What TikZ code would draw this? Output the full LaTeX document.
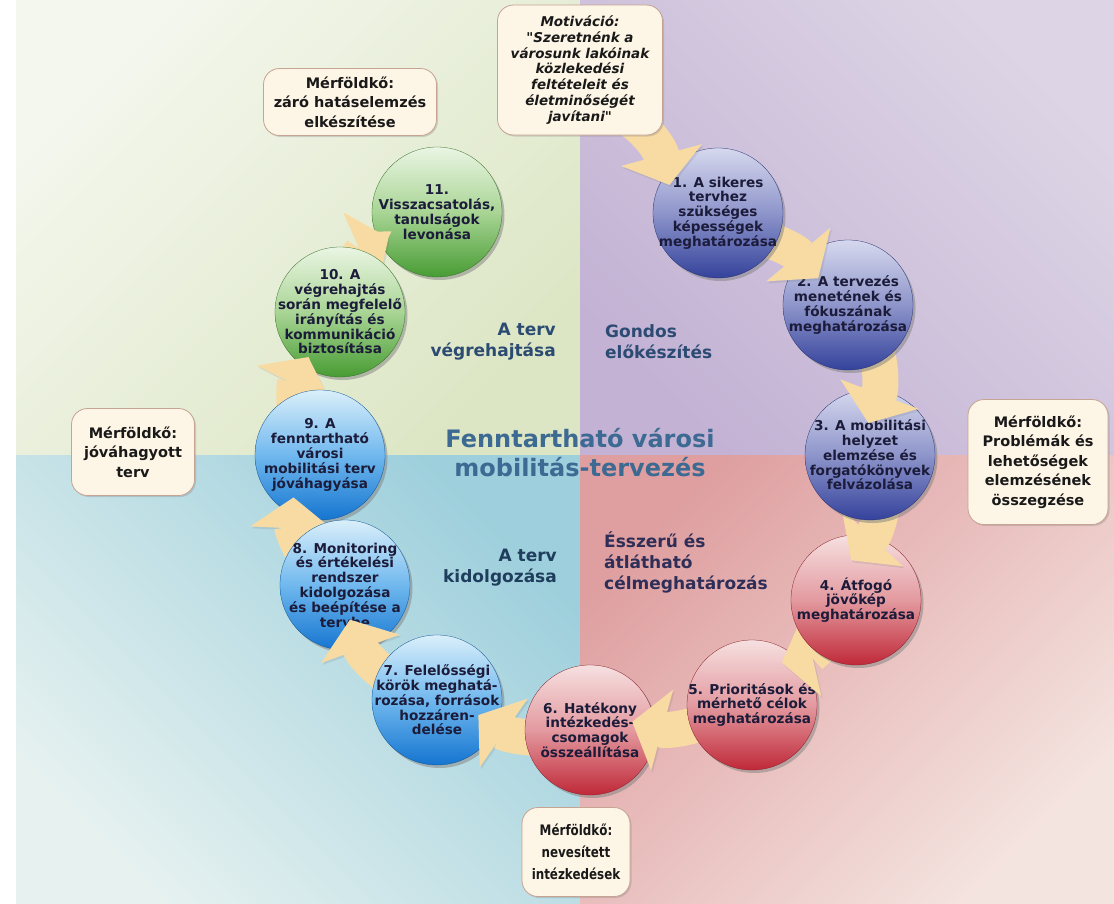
\documentclass[tikz,border=0pt]{standalone}
\usepackage{fontspec}
\setmainfont{DejaVu Sans}
\newfontfamily\condfont[FakeStretch=0.82]{DejaVu Sans}
\newfontfamily\motfont{DejaVu Sans}
\usetikzlibrary{arrows.meta,shadows,calc}
\definecolor{tlL}{HTML}{F4F7EE}\definecolor{tlD}{HTML}{DCE6C4}
\definecolor{trL}{HTML}{DDD5E5}\definecolor{trD}{HTML}{C3B2D4}
\definecolor{blL}{HTML}{E6F1F0}\definecolor{blD}{HTML}{9DCFDC}
\definecolor{brL}{HTML}{F4E4E0}\definecolor{brD}{HTML}{DF9FA0}
\definecolor{puL}{HTML}{D6D8EE}\definecolor{puM}{HTML}{8E95CA}\definecolor{puD}{HTML}{34429C}
\definecolor{reL}{HTML}{F6E0E0}\definecolor{reM}{HTML}{E39AA0}\definecolor{reD}{HTML}{C02838}
\definecolor{blcL}{HTML}{DAEFFA}\definecolor{blcM}{HTML}{70B8EE}\definecolor{blcD}{HTML}{1575D0}
\definecolor{grL}{HTML}{EAF5E3}\definecolor{grM}{HTML}{A9D595}\definecolor{grD}{HTML}{489C34}
\definecolor{ink}{HTML}{1C1C3A}
\definecolor{ttl}{HTML}{3D6A93}
\definecolor{qblue}{HTML}{2C4B73}
\definecolor{qdark}{HTML}{1F3D5C}
\definecolor{qpurp}{HTML}{2E2E58}
\definecolor{arrowc}{HTML}{F8DBA2}
\definecolor{mileF}{HTML}{FDF5E6}
\definecolor{mileD}{HTML}{C6A392}
\begin{document}
\begin{tikzpicture}[x=1pt,y=-1pt,
  ball/.style={circle, minimum size=130pt, inner sep=0pt, draw=#1D!70!black, line width=0.3pt,
    top color=#1L, bottom color=#1D, middle color=#1M,
    drop shadow={shadow xshift=2.5pt, shadow yshift=-3pt, opacity=0.5}},
  ctext/.style={align=center, inner sep=0pt, text=ink, font=\fontsize{13.6}{14.8}\selectfont\bfseries},
  flow/.style={draw=arrowc, line width=36pt, -{Triangle[width=82pt,length=31pt]},
    preaction={draw=black!60, opacity=0.15, transform canvas={shift={(1.5pt,-2pt)}}}},
  mile/.style={draw=mileD, fill=mileF, line width=0.8pt, rounded corners=16pt, align=center,
    inner sep=2pt, font=\fontsize{14.5}{19.5}\selectfont\bfseries, text=black!90,
    drop shadow={shadow xshift=1.5pt, shadow yshift=-1.5pt, opacity=0.3}},
  qlabel/.style={font=\fontsize{17}{21}\selectfont\bfseries, inner sep=0pt},
  ttlstyle/.style={font=\fontsize{24}{29}\selectfont\bfseries, text=ttl, align=center, inner sep=0pt}
]
\useasboundingbox (0,0) rectangle (1114,903);
\fill[white] (0,0) rectangle (1114,903);
% quadrants
\shade[top color=tlL, bottom color=tlD, shading angle=45] (16,0) rectangle (580,455);
\shade[top color=trL, bottom color=trD, shading angle=-45] (580,0) rectangle (1114,455);
\shade[top color=blL, bottom color=blD, shading angle=135] (16,455) rectangle (580,903);
\shade[top color=brL, bottom color=brD, shading angle=-135] (580,455) rectangle (1114,903);
% titles
\node[ttlstyle] (title) at (580,453) {Fenntartható városi\\mobilitás-tervezés};
\node[qlabel, text=qblue, align=right, anchor=east] (qtl) at (556,342) {A terv\\végrehajtása};
\node[qlabel, text=qblue, align=left, anchor=west] (qtr) at (605,342) {Gondos\\előkészítés};
\node[qlabel, text=qdark, align=right, anchor=east] (qbl) at (557,568) {A terv\\kidolgozása};
\node[qlabel, text=qpurp, align=left, anchor=west] (qbr) at (604,562) {Ésszerű és\\átlátható\\célmeghatározás};
% milestones
\node[mile, minimum width=173pt, minimum height=67pt] (mz) at (350,102) {Mérföldkő:\\záró hatáselemzés\\elkészítése};
\node[mile, minimum width=140pt, minimum height=125pt] (mp) at (1038,462) {Mérföldkő:\\Problémák és\\lehetőségek\\elemzésének\\összegzése};
\node[mile, minimum width=123pt, minimum height=87pt] (mj) at (133,452) {Mérföldkő:\\jóváhagyott\\terv};
\node[mile, minimum width=108pt, minimum height=89pt, font=\condfont\bfseries\fontsize{14.5}{22}\selectfont] (mn) at (576,852) {Mérföldkő:\\nevesített\\intézkedések};
% centres
\coordinate (p1) at (718,213);
\coordinate (p2) at (848,305);
\coordinate (p3) at (870,455);
\coordinate (p4) at (856,600);
\coordinate (p5) at (752,705);
\coordinate (p6) at (590,730);
\coordinate (p7) at (437,700);
\coordinate (p8) at (345,585);
\coordinate (p9) at (320,455);
\coordinate (p10) at (340,312);
\coordinate (p11) at (437,212);
\coordinate (ms) at (598,100);
% circles and arrows (drawn in reverse order)
\node[ball=gr] (c11) at (p11) {};
\node[ctext] (t11) at (p11) {11.\\Visszacsatolás,\\tanulságok\\levonása};
\draw[flow] ($(p10)+(85:30pt)$) to[bend left=20] ($(c11)+(-152:55pt)$);
\node[ball=gr] (c10) at (p10) {};
\node[ctext] (t10) at (p10) {10. A\\végrehajtás\\során megfelelő\\irányítás és\\kommunikáció\\biztosítása};
\draw[flow] ($(p9)+(135:30pt)$) to[bend left=20] ($(c10)+(-125:55pt)$);
\node[ball=blc] (c9) at (p9) {};
\node[ctext] (t9) at (p9) {9. A\\fenntartható\\városi\\mobilitási terv\\jóváhagyása};
\draw[flow] ($(p8)+(158:30pt)$) to[bend left=20] ($(c9)+(-122:50pt)$);
\node[ball=blc] (c8) at (p8) {};
\node[ctext] (t8) at (p8) {8. Monitoring\\és értékelési\\rendszer\\kidolgozása\\és beépítése a\\tervbe};
\draw[flow] ($(p7)+(161:30pt)$) to[bend left=20] ($(c8)+(-82:35pt)$);
\node[ball=blc] (c7) at (p7) {};
\node[ctext] (t7) at (p7) {7. Felelősségi\\körök meghatá-\\rozása, források\\hozzáren-\\delése};
\draw[flow] ($(p6)+(-166:30pt)$) to[bend left=20] ($(c7)+(-20:44pt)$);
\node[ball=re] (c6) at (p6) {};
\node[ctext] (t6) at (p6) {6. Hatékony\\intézkedés-\\csomagok\\összeállítása};
\draw[flow] ($(p5)+(-162:30pt)$) to[bend left=20] ($(c6)+(11:43pt)$);
\node[ball=re] (c5) at (p5) {};
\node[ctext] (t5) at (p5) {5. Prioritások és\\mérhető célok\\meghatározása};
\draw[flow] ($(p4)+(-123:30pt)$) to[bend left=20] ($(c5)+(55:52pt)$);
\node[ball=re] (c4) at (p4) {};
\node[ctext] (t4) at (p4) {4. Átfogó\\jövőkép\\meghatározása};
\draw[flow] ($(p3)+(-60:30pt)$) to[bend left=20] ($(c4)+(97:40pt)$);
\node[ball=pu] (c3) at (p3) {};
\node[ctext] (t3) at (p3) {3. A mobilitási\\helyzet\\elemzése és\\forgatókönyvek\\felvázolása};
\draw[flow] ($(p2)+(-44:30pt)$) to[bend left=20] ($(c3)+(93:32pt)$);
\node[ball=pu] (c2) at (p2) {};
\node[ctext] (t2) at (p2) {2. A tervezés\\menetének és\\fókuszának\\meghatározása};
\draw[flow] ($(p1)+(-42:30pt)$) to[bend left=20] ($(c2)+(138:40pt)$);
\node[ball=pu] (c1) at (p1) {};
\node[ctext] (t1) at (p1) {1. A sikeres\\tervhez\\szükséges\\képességek\\meghatározása};
\draw[flow] (ms) to[bend left=25] ($(c1)+(150:56pt)$);
\node[mile, minimum width=165pt, minimum height=130pt, font=\motfont\fontsize{13.5}{15.7}\selectfont\bfseries\itshape] (mm) at (580,70) {Motiváció:\\"Szeretnénk a\\városunk lakóinak\\közlekedési\\feltételeit és\\életminőségét\\javítani"};
\end{tikzpicture}
\end{document}
